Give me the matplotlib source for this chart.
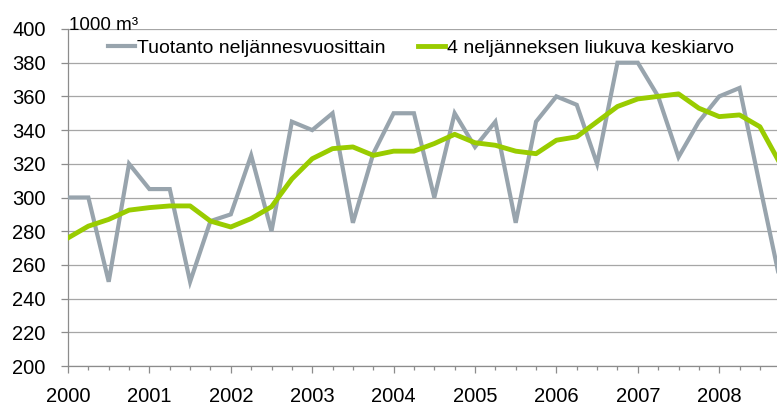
import matplotlib
matplotlib.use("Agg")
import matplotlib.pyplot as plt
from matplotlib.ticker import MultipleLocator

plt.rcParams['font.family'] = ['Liberation Sans', 'DejaVu Sans']

years = ['2000', '2001', '2002', '2003', '2004', '2005', '2006', '2007', '2008']

# quarterly production, 1000 m3 (2000 Q1 ... 2008 Q4)
tuotanto = [300, 300, 250, 320, 305, 305, 250, 286,
            290, 325, 280, 345, 340, 350, 285, 326,
            350, 350, 300, 350, 330, 345, 285, 345,
            360, 355, 320, 380, 380, 360, 324, 345,
            360, 365, 307, 250]

# 4 quarter moving average
keskiarvo = [276, 283, 287, 292.5, 294, 295, 295, 286,
             282.5, 287.5, 294.5, 311, 323, 329, 330, 325,
             327.5, 327.5, 332, 337.5, 332.5, 331, 327.5, 326,
             334, 336, 345, 354, 358.5, 360, 361.5, 353,
             348, 349, 342, 320]

x = list(range(len(tuotanto)))

W, H = 777, 407
fig = plt.figure(figsize=(W / 100, H / 100), dpi=100)
ax = fig.add_axes([68 / W, 41 / H, 1 - 68 / W, (366 - 29) / H])

ax.plot(x, tuotanto, color='#98A4AD', lw=3, solid_joinstyle='miter',
        label='Tuotanto neljännesvuosittain', zorder=3)
ax.plot(x, keskiarvo, color='#99CC00', lw=3.5,
        label='4 neljänneksen liukuva keskiarvo', zorder=4)

ax.set_ylim(200, 400)
ax.set_yticks(range(200, 401, 20))
ax.set_xlim(0, (W - 68) / 20.35)

ax.set_xticks(range(0, 33, 4))
ax.set_xticklabels(years)
ax.xaxis.set_minor_locator(MultipleLocator(1))

ax.grid(axis='y', color='#A6A6A6', lw=0.9)
ax.set_axisbelow(True)
for s in ['top', 'right']:
    ax.spines[s].set_visible(False)
for s in ['left', 'bottom']:
    ax.spines[s].set_color('#8C8C8C')
    ax.spines[s].set_linewidth(0.9)

ax.tick_params(axis='y', length=5, width=0.9, color='#8C8C8C',
               labelsize=14.5, pad=11)
ax.tick_params(axis='x', which='major', length=5, width=0.9,
               color='#8C8C8C', labelsize=14.5, pad=10)
ax.tick_params(axis='x', which='minor', length=3, width=0.9, color='#8C8C8C')

fig.text(69 / W, 1 - 30 / H, '1000 m³', fontsize=13.5, va='baseline', ha='left')

ax.legend(loc='center left', bbox_to_anchor=(108 / W, 1 - 48 / H),
          bbox_transform=fig.transFigure, ncol=2, frameon=False,
          fontsize=14, handlelength=1.4, handletextpad=0.1,
          columnspacing=1.65, borderpad=0, borderaxespad=0)

fig.savefig('out.png', dpi=100)
